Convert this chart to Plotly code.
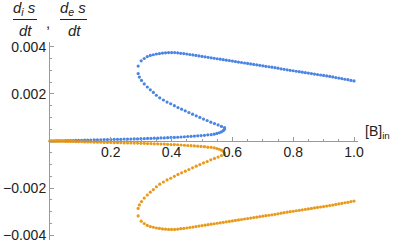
import plotly.graph_objects as go

# [B]_in values (shared by both series), ordered along the curve
b_in = [
    # lower branch
    0.000, 0.005, 0.010, 0.015, 0.020, 0.026, 0.032, 0.038, 0.045, 0.052,
    0.060, 0.068, 0.076, 0.085, 0.094, 0.104, 0.114, 0.124, 0.134, 0.145,
    0.156, 0.167, 0.178, 0.189, 0.200, 0.211, 0.222, 0.233, 0.244, 0.255,
    0.266, 0.277, 0.288, 0.299, 0.310, 0.321, 0.332, 0.343, 0.354, 0.365,
    0.376, 0.387, 0.398, 0.409, 0.420, 0.431, 0.442, 0.453, 0.464, 0.475,
    0.486, 0.497, 0.508, 0.519, 0.530, 0.540, 0.549, 0.557, 0.564, 0.570,
    0.574,
    # middle branch
    0.574, 0.564, 0.553, 0.541, 0.529, 0.517, 0.505, 0.493, 0.481, 0.469,
    0.457, 0.445, 0.433, 0.421, 0.409, 0.397, 0.385, 0.373, 0.361, 0.350,
    0.340, 0.330, 0.320, 0.310, 0.301, 0.294, 0.290,
    # upper branch
    0.290, 0.300, 0.310, 0.320, 0.330, 0.340, 0.350, 0.360, 0.370, 0.380,
    0.390, 0.400, 0.410, 0.420, 0.430, 0.440, 0.450, 0.460, 0.470, 0.480,
    0.490, 0.500, 0.510, 0.520, 0.530, 0.540, 0.550, 0.560, 0.570, 0.580,
    0.590, 0.600, 0.610, 0.620, 0.630, 0.640, 0.650, 0.660, 0.670, 0.680,
    0.690, 0.700, 0.710, 0.720, 0.730, 0.740, 0.750, 0.760, 0.770, 0.780,
    0.790, 0.800, 0.810, 0.820, 0.830, 0.840, 0.850, 0.860, 0.870, 0.880,
    0.890, 0.900, 0.910, 0.920, 0.930, 0.940, 0.950, 0.960, 0.970, 0.980,
    0.990, 1.000,
]

# d_i s / dt  (blue)
dis_dt = [
    0.00000, 0.00000, 0.00000, 0.00000, 0.00001, 0.00001, 0.00001, 0.00001, 0.00001, 0.00002,
    0.00002, 0.00002, 0.00002, 0.00003, 0.00003, 0.00003, 0.00004, 0.00004, 0.00004, 0.00005,
    0.00005, 0.00005, 0.00006, 0.00006, 0.00006, 0.00007, 0.00007, 0.00007, 0.00008, 0.00008,
    0.00008, 0.00009, 0.00009, 0.00010, 0.00010, 0.00011, 0.00011, 0.00012, 0.00012, 0.00013,
    0.00013, 0.00014, 0.00015, 0.00015, 0.00016, 0.00017, 0.00018, 0.00019, 0.00020, 0.00021,
    0.00022, 0.00023, 0.00024, 0.00026, 0.00027, 0.00029, 0.00032, 0.00035, 0.00039, 0.00044,
    0.00050,
    0.00057, 0.00062, 0.00068, 0.00074, 0.00080, 0.00087, 0.00093, 0.00100, 0.00107, 0.00114,
    0.00121, 0.00128, 0.00135, 0.00142, 0.00150, 0.00158, 0.00165, 0.00174, 0.00183, 0.00194,
    0.00206, 0.00217, 0.00229, 0.00242, 0.00257, 0.00271, 0.00286,
    0.00318, 0.00340, 0.00350, 0.00358, 0.00363, 0.00366, 0.00369, 0.00371, 0.00373, 0.00374,
    0.00375, 0.00375, 0.00375, 0.00374, 0.00372, 0.00371, 0.00369, 0.00367, 0.00365, 0.00363,
    0.00361, 0.00359, 0.00357, 0.00355, 0.00353, 0.00351, 0.00349, 0.00347, 0.00345, 0.00343,
    0.00341, 0.00339, 0.00337, 0.00335, 0.00333, 0.00331, 0.00329, 0.00327, 0.00325, 0.00323,
    0.00321, 0.00319, 0.00317, 0.00315, 0.00313, 0.00311, 0.00309, 0.00306, 0.00304, 0.00302,
    0.00300, 0.00298, 0.00296, 0.00294, 0.00292, 0.00290, 0.00288, 0.00286, 0.00284, 0.00282,
    0.00280, 0.00278, 0.00276, 0.00274, 0.00272, 0.00269, 0.00267, 0.00265, 0.00262, 0.00260,
    0.00257, 0.00255,
]

# d_e s / dt  (orange)
des_dt = [
    -0.00000, -0.00000, -0.00000, -0.00000, -0.00001, -0.00001, -0.00001, -0.00001, -0.00001, -0.00002,
    -0.00002, -0.00002, -0.00002, -0.00003, -0.00003, -0.00003, -0.00004, -0.00004, -0.00004, -0.00005,
    -0.00005, -0.00005, -0.00006, -0.00006, -0.00006, -0.00007, -0.00007, -0.00007, -0.00008, -0.00008,
    -0.00008, -0.00009, -0.00009, -0.00010, -0.00010, -0.00011, -0.00011, -0.00012, -0.00012, -0.00013,
    -0.00013, -0.00014, -0.00015, -0.00015, -0.00016, -0.00017, -0.00018, -0.00019, -0.00020, -0.00021,
    -0.00022, -0.00023, -0.00024, -0.00026, -0.00027, -0.00029, -0.00032, -0.00035, -0.00039, -0.00044,
    -0.00050,
    -0.00057, -0.00062, -0.00068, -0.00074, -0.00080, -0.00087, -0.00093, -0.00100, -0.00107, -0.00114,
    -0.00121, -0.00128, -0.00135, -0.00142, -0.00150, -0.00158, -0.00165, -0.00174, -0.00183, -0.00194,
    -0.00206, -0.00217, -0.00229, -0.00242, -0.00257, -0.00271, -0.00286,
    -0.00318, -0.00340, -0.00350, -0.00358, -0.00363, -0.00366, -0.00369, -0.00371, -0.00373, -0.00374,
    -0.00375, -0.00375, -0.00375, -0.00374, -0.00372, -0.00371, -0.00369, -0.00367, -0.00365, -0.00363,
    -0.00361, -0.00359, -0.00357, -0.00355, -0.00353, -0.00351, -0.00349, -0.00347, -0.00345, -0.00343,
    -0.00341, -0.00339, -0.00337, -0.00335, -0.00333, -0.00331, -0.00329, -0.00327, -0.00325, -0.00323,
    -0.00321, -0.00319, -0.00317, -0.00315, -0.00313, -0.00311, -0.00309, -0.00306, -0.00304, -0.00302,
    -0.00300, -0.00298, -0.00296, -0.00294, -0.00292, -0.00290, -0.00288, -0.00286, -0.00284, -0.00282,
    -0.00280, -0.00278, -0.00276, -0.00274, -0.00272, -0.00269, -0.00267, -0.00265, -0.00262, -0.00260,
    -0.00257, -0.00255,
]

x_tickvals = [0.2, 0.4, 0.6, 0.8, 1.0]
x_ticktext = ["0.2", "0.4", "0.6", "0.8", "1.0"]
y_tickvals = [-0.004, -0.002, 0.002, 0.004]
y_ticktext = ["\u22120.004", "\u22120.002", "0.002", "0.004"]

BLUE = "#4a84e4"
ORANGE = "#e99a1a"
AXIS = "#9a9a9a"
FONT = "Liberation Sans"

W, H = 394, 244
ML, MR, MT, MB = 50, 36, 42, 4
PW, PH = W - ML - MR, H - MT - MB


def px(xp):
    return (xp - ML) / PW


def py(yp):
    return (H - MB - yp) / PH


fig = go.Figure()
fig.add_trace(go.Scatter(x=b_in, y=dis_dt, mode="markers",
                         marker=dict(size=3.2, color=BLUE, line=dict(width=0)),
                         showlegend=False, cliponaxis=False))
fig.add_trace(go.Scatter(x=b_in, y=des_dt, mode="markers",
                         marker=dict(size=3.2, color=ORANGE, line=dict(width=0)),
                         showlegend=False, cliponaxis=False))

fig.update_layout(
    width=W, height=H,
    margin=dict(l=ML, r=MR, t=MT, b=MB),
    paper_bgcolor="white", plot_bgcolor="white",
    font=dict(family=FONT, size=14, color="#222222"),
    xaxis=dict(range=[0, PW / 304], anchor="free", position=0.5, automargin=False,
               showline=True, linecolor=AXIS, linewidth=1,
               showgrid=False, zeroline=False,
               tickvals=x_tickvals, ticktext=x_ticktext,
               ticks="inside", ticklen=4, tickcolor=AXIS, ticklabelstandoff=-2,
               minor=dict(ticks="inside", ticklen=2, dtick=0.05, tick0=0, tickcolor=AXIS),
               tickfont=dict(size=14, family=FONT, color="#222222")),
    yaxis=dict(range=[-0.0042, 0.0042], automargin=False,
               showline=True, linecolor=AXIS, linewidth=1,
               showgrid=False, zeroline=False,
               tickvals=y_tickvals, ticktext=y_ticktext,
               ticks="inside", ticklen=4, tickcolor=AXIS,
               minor=dict(ticks="inside", ticklen=2, dtick=0.0005, tick0=0, tickcolor=AXIS),
               tickfont=dict(size=14, family=FONT, color="#222222")),
)

lab_font = dict(family=FONT, size=15, color="#222222")
anns = [
    ("<i>d</i><sub><i>i</i></sub><i> s</i>", 24, 9),
    ("<i>dt</i>", 25, 31),
    (",", 48, 23),
    ("<i>d</i><sub><i>e</i></sub><i> s</i>", 73, 9),
    ("<i>dt</i>", 74, 31),
]
for txt, xp, yp in anns:
    fig.add_annotation(text=txt, xref="paper", yref="paper", x=px(xp), y=py(yp),
                       xanchor="center", yanchor="middle", showarrow=False, font=lab_font)
for x0, x1 in [(13, 37), (60, 87)]:
    fig.add_shape(type="line", xref="paper", yref="paper",
                  x0=px(x0), x1=px(x1), y0=py(19.5), y1=py(19.5),
                  line=dict(color="#222222", width=1))
fig.add_annotation(text="[B]<sub>in</sub>", xref="paper", yref="paper",
                   x=px(363), y=py(132), xanchor="left", yanchor="middle",
                   showarrow=False, font=dict(family=FONT, size=14, color="#222222"))

fig.write_html(
    "out.html",
    config={"displayModeBar": False},
    post_script="document.body.style.margin='0';document.body.style.padding='0';"
                "document.body.style.overflow='hidden';",
)
